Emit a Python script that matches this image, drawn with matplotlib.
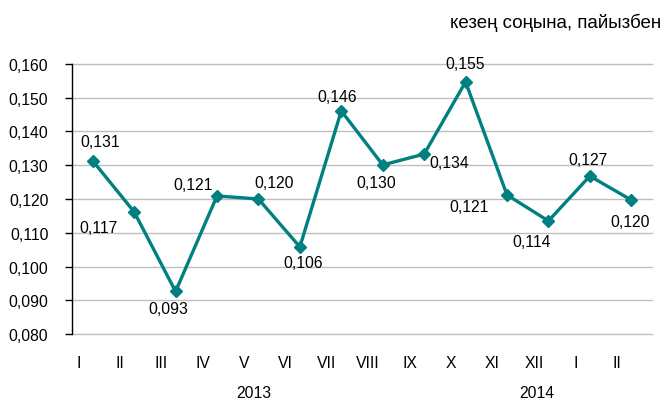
import matplotlib
matplotlib.use("Agg")
import matplotlib.pyplot as plt
import matplotlib.transforms as mtransforms

plt.rcParams['font.family'] = ['Liberation Sans', 'DejaVu Sans']

months = ["I", "II", "III", "IV", "V", "VI", "VII", "VIII", "IX", "X", "XI", "XII", "I", "II"]
values = [0.1313, 0.1162, 0.0926, 0.1209, 0.1200, 0.1058, 0.1461, 0.1301, 0.1333, 0.1547,
          0.1212, 0.1135, 0.1268, 0.1197]
labels = ["0,131", "0,117", "0,093", "0,121", "0,120", "0,106", "0,146", "0,130", "0,134",
          "0,155", "0,121", "0,114", "0,127", "0,120"]
years = ["2013", "2014"]
yticks = [0.080, 0.090, 0.100, 0.110, 0.120, 0.130, 0.140, 0.150, 0.160]
title = "кезең соңына, пайызбен"

# label offsets in pixels (dx, dy) relative to point
offsets = [(7, 19), (-36, -16), (-7, -17), (-24, 11), (16, 16), (3, -16), (-4, 14), (-6, -18),
           (25, -8), (0, 18), (-38, -12), (-17, -21), (-2, 17), (-1, -21)]

color = "#008080"
fs = 11.3

fig = plt.figure(figsize=(6.65, 4.02), dpi=100)
ax = fig.add_axes([72/665, 1-335/402, (652-72)/665, 270/402])

x = list(range(len(values)))
ax.plot(x, values, color=color, lw=2.4, marker="D", markersize=6.5, zorder=3)

for xi, v, lab, (dx, dy) in zip(x, values, labels, offsets):
    ax.annotate(lab, (xi, v), xytext=(dx, dy), textcoords="offset pixels",
                ha="center", va="center", fontsize=fs, color="#000000")

ax.set_xlim(-0.5, len(values) - 0.5)
ax.set_ylim(0.080, 0.160)
ax.set_yticks(yticks)
ax.set_yticklabels([f"{t:.3f}".replace(".", ",") for t in yticks], fontsize=fs)
ax.tick_params(axis="y", length=5, width=1, color="black", pad=12)
ax.grid(axis="y", color="#BFBFBF", lw=1)
for gl in ax.get_ygridlines():
    gl.set_clip_on(False)
ax.set_axisbelow(True)

ax.set_xticks([xi - 0.35 for xi in x])
ax.set_xticklabels(months, fontsize=fs)
ax.tick_params(axis="x", length=0, pad=15)

for s in ["top", "right", "bottom"]:
    ax.spines[s].set_visible(False)
ax.spines["left"].set_color("black")
ax.spines["left"].set_linewidth(1)

trans = mtransforms.blended_transform_factory(ax.transData, ax.transAxes)
ax.text(3.88, -0.218, years[0], transform=trans, ha="center", va="center", fontsize=fs)
ax.text(10.73, -0.218, years[1], transform=trans, ha="center", va="center", fontsize=fs)

fig.text(661/665, 1-23/402, title, ha="right", va="center", fontsize=13.5)

fig.savefig("out.png", dpi=100)
